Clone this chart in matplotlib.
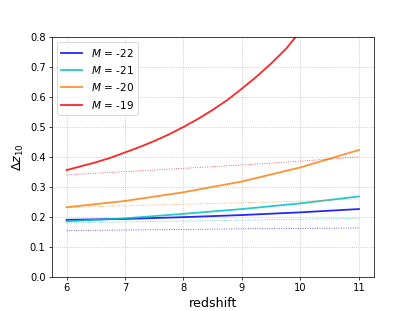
import numpy as np
import matplotlib
matplotlib.use('Agg')
import matplotlib.pyplot as plt

z = [6, 7, 8, 9, 10, 11]
z_red = [6.0, 6.25, 6.5, 6.75, 7.0, 7.25, 7.5, 7.75, 8.0, 8.25, 8.5, 8.75,
         9.0, 9.25, 9.5, 9.75, 10.0, 10.25, 10.5, 11.0]

# curvas solidas
dz_m22 = [0.190, 0.193, 0.199, 0.206, 0.215, 0.226]
dz_m21 = [0.185, 0.195, 0.210, 0.226, 0.245, 0.268]
dz_m20 = [0.232, 0.253, 0.282, 0.318, 0.365, 0.423]
dz_m19 = [0.356, 0.369, 0.382, 0.397, 0.415, 0.433, 0.453, 0.475, 0.500, 0.527,
          0.557, 0.590, 0.628, 0.668, 0.712, 0.760, 0.820, 0.880, 0.950, 1.12]

# curvas punteadas
dz_m22_b = [0.154, 0.156, 0.158, 0.160, 0.161, 0.163]
dz_m21_b = [0.180, 0.183, 0.186, 0.189, 0.192, 0.195]
dz_m20_b = [0.231, 0.237, 0.242, 0.247, 0.252, 0.260]
dz_m19_b = [0.340, 0.351, 0.362, 0.373, 0.386, 0.400]

fig, ax = plt.subplots(figsize=(6.4, 4.8), dpi=64.85)

ax.plot(z, dz_m22, color='b', lw=2, alpha=0.85, label='$M$ = -22')
ax.plot(z, dz_m21, color='c', lw=2, alpha=0.85, label='$M$ = -21')
ax.plot(z, dz_m20, color='tab:orange', lw=2, alpha=0.85, label='$M$ = -20')
ax.plot(z_red, dz_m19, color='r', lw=2, alpha=0.85, label='$M$ = -19')

ax.plot(z, dz_m22_b, color='b', lw=1, ls=':', alpha=0.7)
ax.plot(z, dz_m21_b, color='c', lw=1, ls=':', alpha=0.7)
ax.plot(z, dz_m20_b, color='tab:orange', lw=1, ls=':', alpha=0.7)
ax.plot(z, dz_m19_b, color='r', lw=1, ls=':', alpha=0.7)

ax.set_ylim(0, 0.8)
ax.set_xlim(5.75, 11.25)
ax.grid(ls=':', color='grey', alpha=0.6)
ax.set_xlabel('redshift', fontsize=14)
ax.set_ylabel(r'$\Delta z_{10}$', fontsize=14)
ax.tick_params(labelsize=11)
ax.legend(loc='upper left', fontsize=11.7)

plt.savefig('out.png', dpi=64.85)
plt.close()
